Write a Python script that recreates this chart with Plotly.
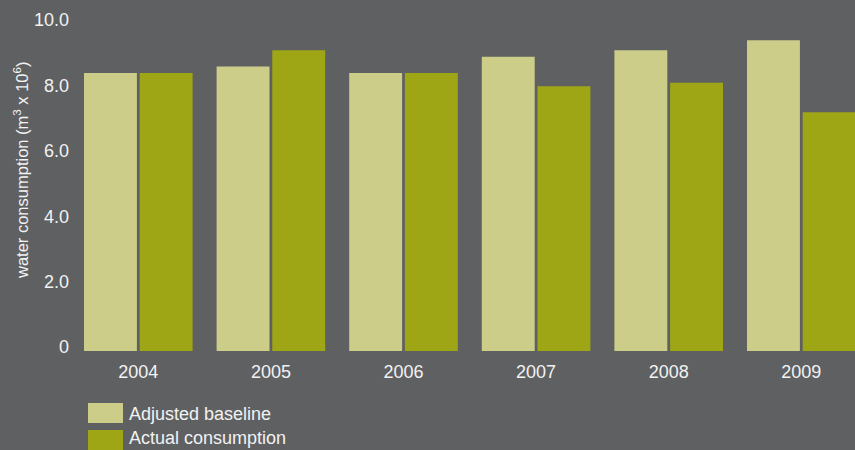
import plotly.graph_objects as go

# Water consumption by year, millions of cubic metres
years = ["2004", "2005", "2006", "2007", "2008", "2009"]
adjusted_baseline = [8.5, 8.7, 8.5, 9.0, 9.2, 9.5]
actual_consumption = [8.5, 9.2, 8.5, 8.1, 8.2, 7.3]

series_names = ["Adjusted baseline", "Actual consumption"]
series_colors = ["#cbcd89", "#9ea615"]

y_tick_values = [0, 2, 4, 6, 8, 10]
y_tick_labels = ["0", "2.0", "4.0", "6.0", "8.0", "10.0"]

BG = "#5f6062"
TEXT = "#f2f2f2"
FONT = "Liberation Sans, Arial, sans-serif"

fig = go.Figure()
for name, vals, col in zip(series_names, [adjusted_baseline, actual_consumption], series_colors):
    fig.add_trace(go.Bar(x=years, y=vals, name=name, marker=dict(color=col, line=dict(width=0)),
                         showlegend=False))

W, H = 855, 450
L, R, T, B = 72, 0, 24, 99
plot_w = W - L - R
plot_h = H - T - B

fig.update_layout(
    width=W, height=H,
    margin=dict(l=L, r=R, t=T, b=B),
    paper_bgcolor=BG, plot_bgcolor=BG,
    barmode="group", bargap=0.16, bargroupgap=0.05,
    font=dict(family=FONT, color=TEXT, size=18),
    xaxis=dict(range=[-0.5, -0.5 + plot_w / 132.6], showgrid=False, zeroline=False,
               showline=False, ticks="", ticklabelstandoff=8,
               tickfont=dict(size=18, color=TEXT)),
    yaxis=dict(range=[0, 10], tickvals=y_tick_values, ticktext=y_tick_labels,
               showgrid=False, zeroline=False, showline=False, ticks="",
               ticklabelshift=-4, ticklabelstandoff=2,
               tickfont=dict(size=18, color=TEXT)),
)


def px(pix):
    return (pix - L) / plot_w


def py(pix):
    return (H - B - pix) / plot_h


# Y-axis title
fig.add_annotation(xref="paper", yref="paper", x=px(21), y=py(171),
                   text="water consumption (m<sup>3</sup> x 10<sup>6</sup>)",
                   textangle=-90, showarrow=False, xanchor="center", yanchor="middle",
                   font=dict(size=16.5, color=TEXT))

# Legend: colour swatches with labels beneath the plot
rows = [(403, 423), (430, 450)]
label_centres = [414, 438]
for (y0, y1), yc, name, col in zip(rows, label_centres, series_names, series_colors):
    fig.add_shape(type="rect", xref="paper", yref="paper",
                  x0=px(88), x1=px(123), y0=py(y1), y1=py(y0),
                  fillcolor=col, line=dict(width=0))
    fig.add_annotation(xref="paper", yref="paper", x=px(127), y=py(yc),
                       text=name, showarrow=False, xanchor="left", yanchor="middle",
                       font=dict(size=18, color=TEXT))

fig.write_html("out.html")
